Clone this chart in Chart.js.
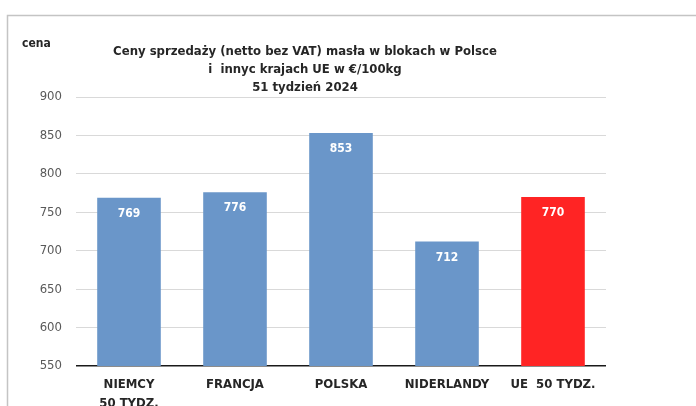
<!DOCTYPE html>
<html>
<head>
<meta charset="utf-8">
<script src="https://cdn.jsdelivr.net/npm/chart.js@4/dist/chart.umd.min.js"></script>
<style>
  html, body { margin: 0; padding: 0; background: #fff; }
  #wrap { width: 696px; height: 406px; position: relative; }
</style>
</head>
<body>
<div id="wrap"><canvas id="cenyChart"></canvas></div>
<script>
// dane z wykresu
var kraje = [['NIEMCY', '50 TYDZ.'], 'FRANCJA', 'POLSKA', 'NIDERLANDY', 'UE  50 TYDZ.'];
var ceny = [769, 776, 853, 712, 770];
var kolory = ['#6a96c9', '#6a96c9', '#6a96c9', '#6a96c9', '#ff2424'];
var tytul = ['Ceny sprzedaży (netto bez VAT) masła w blokach w Polsce', 'i  innyc krajach UE w €/100kg', '51 tydzień 2024'];
var osY = { min: 550, max: 900, krok: 50, nazwa: 'cena' };

var FONT = '"Liberation Sans Narrow", "DejaVu Sans Condensed", Arial, sans-serif';

// ramka, tytul i etykieta osi
var ramka = {
  id: 'ramka',
  beforeDraw: function (chart) {
    var ctx = chart.ctx;
    ctx.save();
    ctx.strokeStyle = '#c4c4c4';
    ctx.lineWidth = 1.5;
    ctx.beginPath();
    ctx.moveTo(7.5, 406);
    ctx.lineTo(7.5, 15.5);
    ctx.lineTo(696, 15.5);
    ctx.stroke();
    ctx.restore();
  },
  afterDraw: function (chart) {
    var ctx = chart.ctx;
    ctx.save();
    ctx.fillStyle = '#262626';
    ctx.font = 'bold 12px ' + FONT;
    ctx.textAlign = 'left';
    ctx.textBaseline = 'middle';
    ctx.fillText(osY.nazwa, 22, 44);
    ctx.font = 'bold 13px ' + FONT;
    ctx.textAlign = 'center';
    var ys = [52, 70, 88];
    tytul.forEach(function (t, i) { ctx.fillText(t, 305, ys[i]); });

    // etykiety wartosci
    var meta = chart.getDatasetMeta(0);
    ctx.fillStyle = '#ffffff';
    ctx.font = 'bold 12px ' + FONT;
    meta.data.forEach(function (bar, i) {
      ctx.fillText(String(ceny[i]), bar.x, bar.y + 16);
    });
    ctx.restore();
  }
};

new Chart(document.getElementById('cenyChart'), {
  type: 'bar',
  data: {
    labels: kraje,
    datasets: [{
      data: ceny,
      backgroundColor: kolory,
      borderWidth: 0,
      barPercentage: 0.6,
      categoryPercentage: 1.0
    }]
  },
  options: {
    responsive: true,
    maintainAspectRatio: false,
    animation: false,
    layout: { padding: { top: 97, right: 90, left: 0, bottom: 0 } },
    plugins: {
      legend: { display: false },
      title: { display: false },
      tooltip: { enabled: false }
    },
    scales: {
      x: {
        grid: { display: false, drawTicks: false },
        border: { display: false },
        ticks: {
          color: '#262626',
          padding: 10,
          maxRotation: 0,
          autoSkip: false,
          font: { family: FONT, size: 13, weight: 'bold', lineHeight: 1.4 }
        },
        afterFit: function (s) { s.height = 40; }
      },
      y: {
        min: osY.min,
        max: osY.max,
        grid: {
          color: function (c) { return c.tick.value === osY.min ? '#1a1a1a' : '#d9d9d9'; },
          lineWidth: function (c) { return c.tick.value === osY.min ? 1.5 : 1; },
          drawTicks: false
        },
        border: { display: false },
        ticks: {
          stepSize: osY.krok,
          color: '#595959',
          padding: 14,
          font: { family: FONT, size: 13 }
        },
        afterFit: function (s) { s.width = 76; }
      }
    }
  },
  plugins: [ramka]
});
</script>
</body>
</html>
